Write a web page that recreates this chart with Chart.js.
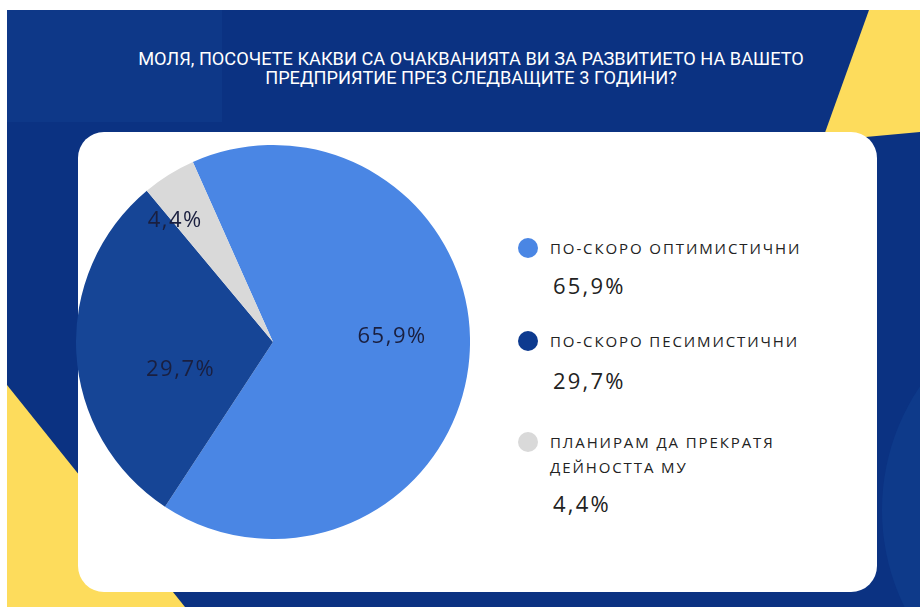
<!DOCTYPE html>
<html>
<head>
<meta charset="utf-8">
<script src="https://cdn.jsdelivr.net/npm/chart.js@4"></script>
<style>
  html, body { margin: 0; padding: 0; background: #fff; }
  #page { position: relative; width: 920px; height: 607px; overflow: hidden; background: #fff; }
  #bg { position: absolute; left: 7px; top: 10px; right: 0; bottom: 0; background: #0b3282; overflow: hidden; }
  #bgLight { position: absolute; left: 0; top: 0; width: 215px; height: 112px; background: #0e3888; }
  #bgArc { position: absolute; left: 875px; top: 280px; width: 440px; height: 440px; border-radius: 50%; background: #0e3a8a; }
  .yellow { position: absolute; left: 0; top: 0; width: 920px; height: 607px; background: #fddc5c; }
  #yellowTop { clip-path: polygon(869px 10px, 920px 10px, 920px 132px, 822px 141px); }
  #yellowBot { clip-path: polygon(7px 385px, 185px 607px, 7px 607px); }
  #title { position: absolute; left: 0; top: 49px; width: 942px; text-align: center; color: #fff;
    font-family: Roboto, sans-serif; font-size: 18.2px; line-height: 19px; letter-spacing: 0px; }
  #card { position: absolute; left: 78px; top: 132px; width: 799px; height: 460px; background: #fff; border-radius: 26px; }
  #pieBox { position: absolute; left: 76px; top: 145px; width: 394px; height: 394px; }
  #legend { position: absolute; left: 515px; top: 0; font-family: "Open Sans", sans-serif; color: #222; }
  .dot { position: absolute; left: 3px; width: 20px; height: 20px; border-radius: 50%; }
  .name { position: absolute; left: 35px; width: 300px; font-size: 15px; line-height: 25px; letter-spacing: 1.9px; text-transform: uppercase; }
  .val { position: absolute; left: 38px; font-size: 22px; letter-spacing: 2.2px; line-height: 26px; }
</style>
</head>
<body>
<div id="page">
  <div id="bg"><div id="bgLight"></div><div id="bgArc"></div></div>
  <div id="yellowTop" class="yellow"></div>
  <div id="yellowBot" class="yellow"></div>
  <div id="title">МОЛЯ, ПОСОЧЕТЕ КАКВИ СА ОЧАКВАНИЯТА ВИ ЗА РАЗВИТИЕТО НА ВАШЕТО<br>ПРЕДПРИЯТИЕ ПРЕЗ СЛЕДВАЩИТЕ 3 ГОДИНИ?</div>
  <div id="card"></div>
  <div id="pieBox"><canvas id="pie"></canvas></div>
  <div id="legend"></div>
</div>
<script>
const categories = ['По-скоро оптимистични', 'По-скоро песимистични', 'Планирам да прекратя дейността му'];
const values = [65.9, 29.7, 4.4];
const colors = ['#4a86e4', '#164596', '#d9d9d9'];
const dotColors = ['#4a86e4', '#0d3a8f', '#d9d9d9'];

function pct(v) { return v.toFixed(1).replace('.', ',') + '%'; }

// legend rows, laid out top to bottom
const legendTops = [236, 329, 430];
const legendValTops = [272, 367, 490];
const legend = document.getElementById('legend');
categories.forEach(function (c, i) {
    const dot = document.createElement('div');
    dot.className = 'dot';
    dot.style.background = dotColors[i];
    dot.style.top = (legendTops[i] + 2) + 'px';
    const name = document.createElement('div');
    name.className = 'name';
    name.style.top = legendTops[i] + 'px';
    name.textContent = c;
    const val = document.createElement('div');
    val.className = 'val';
    val.style.top = legendValTops[i] + 'px';
    val.textContent = pct(values[i]);
    legend.appendChild(dot);
    legend.appendChild(name);
    legend.appendChild(val);
});
// third label wraps over two lines
legend.querySelectorAll('.name')[2].style.width = '260px';

// labels inside the slices, placed along the slice's mid angle
const labelRadius = [0.605, 0.49, 0.79];
const labelTurn = [-7, -13.5, -7];
const sliceLabels = {
    id: 'sliceLabels',
    afterDatasetsDraw(chart) {
        const ctx = chart.ctx;
        const meta = chart.getDatasetMeta(0);
        ctx.save();
        ctx.font = '22px "Open Sans", sans-serif';
        ctx.letterSpacing = '1.5px';
        ctx.fillStyle = '#1a1f3f';
        ctx.textAlign = 'center';
        ctx.textBaseline = 'middle';
        meta.data.forEach(function (arc, i) {
            const p = arc.getProps(['x', 'y', 'startAngle', 'endAngle', 'outerRadius']);
            const a = (p.startAngle + p.endAngle) / 2 + labelTurn[i] * Math.PI / 180;
            const r = p.outerRadius * labelRadius[i];
            ctx.fillText(pct(values[i]), p.x + Math.cos(a) * r, p.y + Math.sin(a) * r);
        });
        ctx.restore();
    }
};

new Chart(document.getElementById('pie'), {
    type: 'pie',
    data: {
        labels: categories,
        datasets: [
            {
                backgroundColor: colors,
                borderWidth: 0,
                data: values
            }
        ]
    },
    options: {
        responsive: true,
        maintainAspectRatio: false,
        animation: false,
        rotation: -24,
        layout: { padding: 0 },
        plugins: { legend: { display: false }, tooltip: { enabled: false } }
    },
    plugins: [sliceLabels]
});
</script>
</body>
</html>
